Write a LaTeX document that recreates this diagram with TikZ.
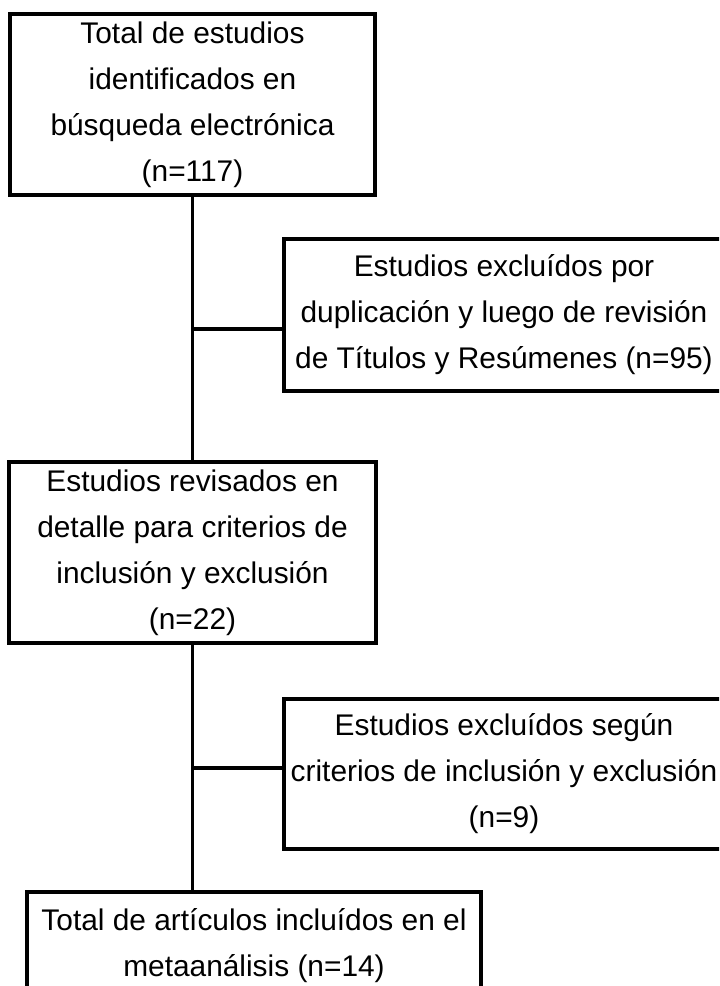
\documentclass[tikz,border=0pt]{standalone}
\usepackage{fontspec}
\setmainfont{Liberation Sans}

\begin{document}
\begin{tikzpicture}[x=0.75pt,y=-0.75pt,
	caja/.style={draw,line width=2.5pt,align=center,inner sep=0pt,
		font=\fontsize{22.4}{34.5}\selectfont},
	linea/.style={line width=2.5pt}]

\def\px{0.75pt}

\useasboundingbox (0,0) rectangle (719,986);
\clip (0,0) rectangle (719,986);

\node[caja,minimum width=365*\px,minimum height=181*\px] (total) at (192.5,104.5)
	{Total de estudios\\identificados en\\búsqueda electrónica\\(n=117)};
\node[caja,minimum width=440*\px,minimum height=152*\px] (excl1) at (504,315)
	{Estudios excluídos por\\duplicación y luego de revisión\\de Títulos y Resúmenes (n=95)};
\node[caja,minimum width=367*\px,minimum height=181*\px] (revis) at (192.5,552.5)
	{Estudios revisados en\\detalle para criterios de\\inclusión y exclusión\\(n=22)};
\node[caja,minimum width=440*\px,minimum height=150*\px] (excl2) at (504,774)
	{Estudios excluídos según\\criterios de inclusión y exclusión\\(n=9)};
\node[caja,minimum width=454*\px,minimum height=108*\px] (final) at (254,946)
	{Total de artículos incluídos en el\\metaanálisis (n=14)};

% tronco y ramas
\draw[linea] (total.south) -- (revis.north);
\draw[linea] (revis.south) -- (revis.south |- final.north);
\coordinate (r1) at (192.5,329);
\draw[linea] (r1) -- (r1 -| excl1.west);
\coordinate (r2) at (192.5,768);
\draw[linea] (r2) -- (r2 -| excl2.west);

\end{tikzpicture}
\end{document}
